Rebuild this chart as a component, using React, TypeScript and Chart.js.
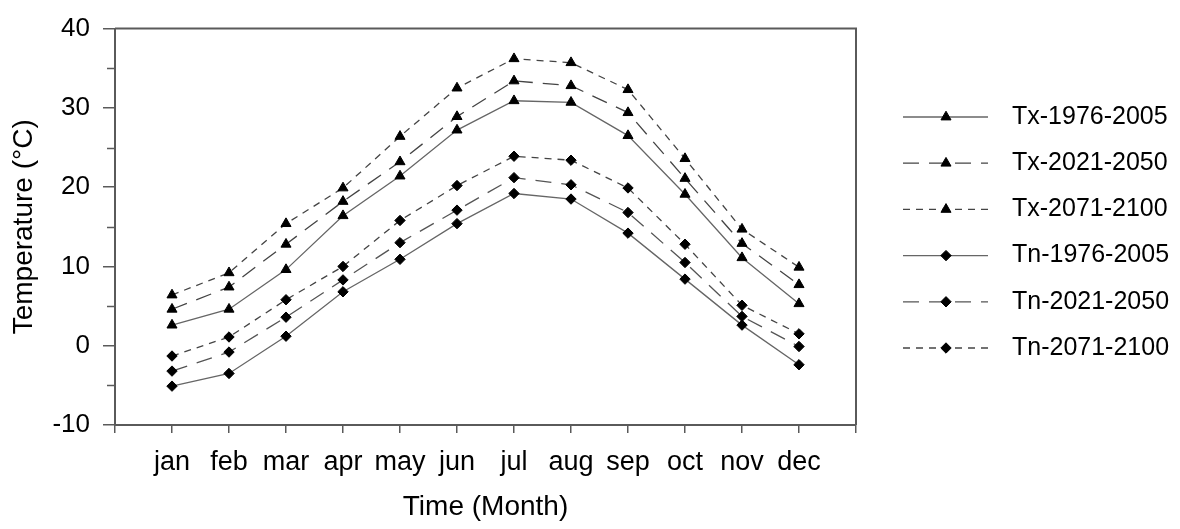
import React, { useEffect, useRef } from 'react';
import { Chart, registerables } from 'chart.js';

Chart.register(...registerables);

const months = ['jan', 'feb', 'mar', 'apr', 'may', 'jun', 'jul', 'aug', 'sep', 'oct', 'nov', 'dec'];
const yTicksMajor = [-10, 0, 10, 20, 30, 40];

const txBase = [2.6, 4.6, 9.6, 16.4, 21.4, 27.2, 30.9, 30.7, 26.5, 19.1, 11.1, 5.3];
const tx2021 = [4.6, 7.4, 12.8, 18.2, 23.2, 28.9, 33.4, 32.8, 29.4, 21.1, 12.9, 7.7];
const tx2071 = [6.4, 9.2, 15.4, 19.9, 26.4, 32.5, 36.2, 35.7, 32.3, 23.6, 14.7, 9.9];
const tnBase = [-5.1, -3.5, 1.2, 6.8, 10.9, 15.4, 19.2, 18.5, 14.2, 8.4, 2.6, -2.4];
const tn2021 = [-3.2, -0.8, 3.6, 8.3, 13.0, 17.1, 21.2, 20.3, 16.8, 10.5, 3.7, -0.1];
const tn2071 = [-1.3, 1.1, 5.8, 10.0, 15.8, 20.2, 23.9, 23.4, 19.9, 12.8, 5.1, 1.5];

const seriesLabels = ['Tx-1976-2005', 'Tx-2021-2050', 'Tx-2071-2100', 'Tn-1976-2005', 'Tn-2021-2050', 'Tn-2071-2100'];

const FONT = "'Liberation Sans', Arial, sans-serif";
const AXIS = '#5a5a5a';
const LONG_DASH = [16, 10];
const SHORT_DASH = [7, 6];

function toPoints(arr: number[]) {
  return arr.map((v, i) => ({ x: i + 1, y: v }));
}

function drawMarker(ctx: CanvasRenderingContext2D, style: string, x: number, y: number, r: number) {
  ctx.save();
  ctx.fillStyle = '#000';
  ctx.strokeStyle = '#000';
  ctx.lineWidth = 1;
  ctx.beginPath();
  if (style === 'triangle') {
    let rad = 0;
    ctx.moveTo(x + Math.sin(rad) * r, y - Math.cos(rad) * r);
    rad += (2 * Math.PI) / 3;
    ctx.lineTo(x + Math.sin(rad) * r, y - Math.cos(rad) * r);
    rad += (2 * Math.PI) / 3;
    ctx.lineTo(x + Math.sin(rad) * r, y - Math.cos(rad) * r);
  } else {
    ctx.moveTo(x, y - r);
    ctx.lineTo(x + r, y);
    ctx.lineTo(x, y + r);
    ctx.lineTo(x - r, y);
  }
  ctx.closePath();
  ctx.fill();
  ctx.stroke();
  ctx.restore();
}

const framePlugin = {
  id: 'frame',
  afterDraw(chart: any) {
    const { ctx, chartArea, scales } = chart;
    ctx.save();
    ctx.strokeStyle = AXIS;
    ctx.lineWidth = 2;
    ctx.beginPath();
    ctx.moveTo(chartArea.left, chartArea.top);
    ctx.lineTo(chartArea.right, chartArea.top);
    ctx.lineTo(chartArea.right, chartArea.bottom);
    ctx.stroke();
    // minor y ticks
    ctx.lineWidth = 1.5;
    const y = scales.y;
    for (let v = -5; v < 40; v += 10) {
      const py = Math.round(y.getPixelForValue(v)) + 0.5;
      ctx.beginPath();
      ctx.moveTo(chartArea.left - 8, py);
      ctx.lineTo(chartArea.left, py);
      ctx.stroke();
    }
    ctx.restore();

    // legend
    const x0 = 903;
    const x1 = 988;
    const xm = 946;
    const tx = 1012;
    chart.data.datasets.forEach((ds: any, i: number) => {
      const ry = 117 + i * 46.2;
      ctx.save();
      ctx.strokeStyle = ds.borderColor;
      ctx.lineWidth = ds.borderWidth;
      ctx.setLineDash(ds.borderDash || []);
      ctx.beginPath();
      ctx.moveTo(x0, ry);
      ctx.lineTo(x1, ry);
      ctx.stroke();
      ctx.restore();
      drawMarker(ctx, ds.pointStyle, xm, ry, ds.pointRadius);
      ctx.save();
      ctx.fillStyle = '#000';
      ctx.font = `25px ${FONT}`;
      ctx.textAlign = 'left';
      ctx.textBaseline = 'middle';
      ctx.fillText(ds.label, tx, ry);
      ctx.restore();
    });
  },
};

export default function App() {
  const ref = useRef<HTMLCanvasElement | null>(null);

  useEffect(() => {
    document.body.style.margin = '0';
    const canvas = ref.current;
    if (!canvas) return;
    const mk = (label: string, data: number[], dash: number[], style: string, r: number, color: string) => ({
      label,
      data: toPoints(data),
      borderColor: color,
      borderWidth: 1.3,
      borderDash: dash,
      pointStyle: style,
      pointRadius: r,
      pointBorderWidth: 1,
      pointBackgroundColor: '#000',
      pointBorderColor: '#000',
      fill: false,
      tension: 0,
    });
    const chart = new Chart(canvas, {
      type: 'line',
      data: {
        datasets: [
          mk(seriesLabels[0], txBase, [], 'triangle', 5.8, '#666'),
          mk(seriesLabels[1], tx2021, LONG_DASH, 'triangle', 5.8, '#444'),
          mk(seriesLabels[2], tx2071, SHORT_DASH, 'triangle', 5.8, '#444'),
          mk(seriesLabels[3], tnBase, [], 'rectRot', 5.2, '#666'),
          mk(seriesLabels[4], tn2021, LONG_DASH, 'rectRot', 5.2, '#555'),
          mk(seriesLabels[5], tn2071, SHORT_DASH, 'rectRot', 5.2, '#444'),
        ] as any,
      },
      options: {
        animation: false,
        responsive: false,
        devicePixelRatio: 1,
        layout: { padding: { left: 0, right: 324, top: 24, bottom: 0 } },
        plugins: { legend: { display: false }, tooltip: { enabled: false } },
        font: { family: FONT },
        scales: {
          x: {
            type: 'linear',
            min: 0,
            max: 13,
            afterFit: (s: any) => { s.height = 104; },
            afterBuildTicks: (s: any) => {
              s.ticks = Array.from({ length: 14 }, (_, i) => ({ value: i }));
            },
            ticks: {
              stepSize: 1,
              autoSkip: false,
              maxRotation: 0,
              padding: 13,
              color: '#000',
              font: { family: FONT, size: 27 },
              callback: (v: any) => months[Number(v) - 1] ?? '',
            },
            grid: { drawOnChartArea: false, tickLength: 8, color: AXIS, lineWidth: 1.5 },
            border: { color: AXIS, width: 2 },
            title: {
              display: true,
              text: 'Time (Month)',
              color: '#000',
              font: { family: FONT, size: 28 },
              padding: { top: 0, bottom: 5 },
            },
          },
          y: {
            type: 'linear',
            min: -10,
            max: 40,
            afterFit: (s: any) => { s.width = 115; },
            afterBuildTicks: (s: any) => {
              s.ticks = yTicksMajor.map((v) => ({ value: v }));
            },
            ticks: {
              stepSize: 10,
              padding: 13,
              color: '#000',
              font: { family: FONT, size: 26 },
            },
            grid: { drawOnChartArea: false, tickLength: 12, color: AXIS, lineWidth: 1.5 },
            border: { color: AXIS, width: 2 },
            title: {
              display: true,
              text: 'Temperature (°C)',
              color: '#000',
              font: { family: FONT, size: 28 },
              padding: { top: 7, bottom: 0 },
            },
          },
        },
      } as any,
      plugins: [framePlugin],
    });
    return () => chart.destroy();
  }, []);

  return (
    <div style={{ width: 1180, height: 529 }}>
      <canvas ref={ref} width={1180} height={529} style={{ display: 'block' }} />
    </div>
  );
}
